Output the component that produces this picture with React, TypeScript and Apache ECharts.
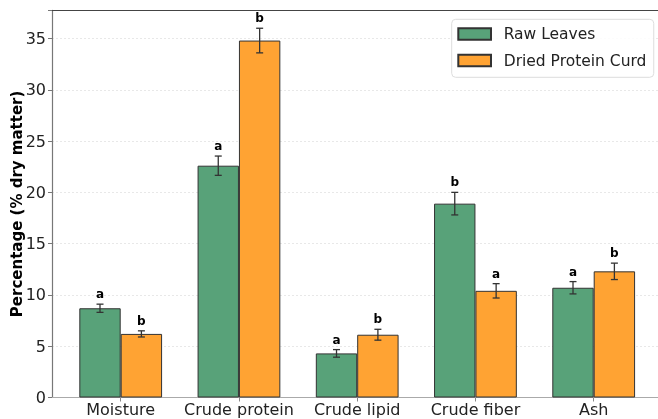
import React, { useEffect, useRef } from "react";
import * as echarts from "echarts";

const categories = ["Moisture", "Crude protein", "Crude lipid", "Crude fiber", "Ash"];
const seriesNames = ["Raw Leaves", "Dried Protein Curd"];
const rawLeaves = [8.7, 22.6, 4.3, 18.9, 10.7];
const rawErr = [0.4, 0.94, 0.37, 1.1, 0.6];
const rawLetters = ["a", "a", "a", "b", "a"];
const curd = [6.2, 34.8, 6.12, 10.4, 12.3];
const curdErr = [0.3, 1.2, 0.53, 0.7, 0.8];
const curdLetters = ["b", "b", "b", "a", "b"];
const yTicks = [0, 5, 10, 15, 20, 25, 30, 35];

const FONT = "DejaVu Sans";
const GREEN = "#58a279";
const ORANGE = "#ffa333";

function errSeries(values: number[], errs: number[], letters: string[], sign: number) {
  return {
    type: "custom",
    z: 5,
    silent: true,
    data: values.map((v, i) => [i, v, errs[i]]),
    encode: { x: 0, y: 1 },
    renderItem: (params: any, api: any) => {
      const x = api.value(0);
      const y = api.value(1);
      const e = api.value(2);
      const off = sign * api.size([0.175, 0])[0];
      const top = api.coord([x, y + e]);
      const bot = api.coord([x, y - e]);
      const cx = top[0] + off;
      const cap = 3.5;
      const st = { stroke: "#333", lineWidth: 1.3 };
      return {
        type: "group",
        children: [
          { type: "line", shape: { x1: cx, y1: top[1], x2: cx, y2: bot[1] }, style: st },
          { type: "line", shape: { x1: cx - cap, y1: top[1], x2: cx + cap, y2: top[1] }, style: st },
          { type: "line", shape: { x1: cx - cap, y1: bot[1], x2: cx + cap, y2: bot[1] }, style: st },
          {
            type: "text",
            x: cx,
            y: top[1] - 10,
            style: {
              text: letters[params.dataIndex],
              fill: "#000",
              font: `bold 12px "${FONT}"`,
              textAlign: "center",
              textVerticalAlign: "middle",
            },
          },
        ],
      };
    },
  };
}

export default function App() {
  const ref = useRef<HTMLDivElement>(null);
  useEffect(() => {
    document.body.style.margin = "0";
    const chart = echarts.init(ref.current!, null, { renderer: "svg" });
    const xMin = -0.581;
    const xMax = 4.581;
    chart.setOption({
      animation: false,
      textStyle: { fontFamily: FONT },
      grid: { left: 52, top: 10.3, right: -4.4, bottom: 21.5, containLabel: false, outerBoundsMode: "none" },
      legend: {
        data: seriesNames,
        orient: "vertical",
        left: 451.7,
        top: 19.3,
        icon: "rect",
        itemWidth: 32.7,
        itemHeight: 11.7,
        itemGap: 6.5,
        padding: [4.7, 7.3, 6.8, 5.6],
        borderColor: "#dddddd",
        borderWidth: 1,
        borderRadius: 4,
        backgroundColor: "rgba(255,255,255,0.85)",
        textStyle: { fontSize: 15.5, fontFamily: FONT, color: "#222", lineHeight: 20, padding: [0, 0, 0, 7.7] },
      },
      xAxis: [
        {
          type: "value",
          min: xMin,
          max: xMax,
          axisLine: { show: true, onZero: false, lineStyle: { color: "#aaaaaa", width: 1 } },
          axisTick: { show: true, customValues: [0, 1, 2, 3, 4], length: 4, lineStyle: { color: "#888" } },
          axisLabel: {
            customValues: [0, 1, 2, 3, 4],
            formatter: (v: number) => categories[Math.round(v)],
            fontSize: 16,
            color: "#222",
            margin: 4,
            fontFamily: FONT,
          },
          splitLine: { show: false },
        },
        {
          type: "value",
          position: "top",
          min: xMin,
          max: xMax,
          axisLine: { show: true, onZero: false, lineStyle: { color: "#444", width: 1.2 } },
          axisTick: { show: false },
          axisLabel: { show: false },
          splitLine: { show: false },
        },
      ],
      yAxis: {
        type: "value",
        min: 0,
        max: 37.75,
        interval: 5,
        name: "Percentage (% dry matter)",
        nameLocation: "middle",
        nameGap: 28,
        nameMoveOverlap: false,
        nameTextStyle: { fontSize: 15, fontWeight: "bold", color: "#000", fontFamily: FONT },
        axisLine: { show: true, onZero: false, lineStyle: { color: "#777", width: 1.2 } },
        axisTick: { show: true, length: 4, lineStyle: { color: "#777" } },
        axisLabel: {
          customValues: yTicks,
          fontSize: 16,
          color: "#222",
          margin: 6,
          fontFamily: FONT,
        },
        splitLine: { show: true, lineStyle: { type: [2, 2], color: "#e2e2e2", width: 0.8 } },
      },
      series: [
        {
          name: seriesNames[0],
          type: "bar",
          data: rawLeaves.map((v, i) => [i, v]),
          barWidth: "35%",
          barGap: "0%",
          itemStyle: { color: GREEN, borderColor: "#333", borderWidth: 1 },
        },
        {
          name: seriesNames[1],
          type: "bar",
          data: curd.map((v, i) => [i, v]),
          barWidth: "35%",
          barGap: "0%",
          itemStyle: { color: ORANGE, borderColor: "#333", borderWidth: 1 },
        },
        errSeries(rawLeaves, rawErr, rawLetters, -1),
        errSeries(curd, curdErr, curdLetters, 1),
      ],
    });
    return () => chart.dispose();
  }, []);
  return <div ref={ref} style={{ position: "fixed", left: 0, top: 0, width: 658, height: 419 }} />;
}
